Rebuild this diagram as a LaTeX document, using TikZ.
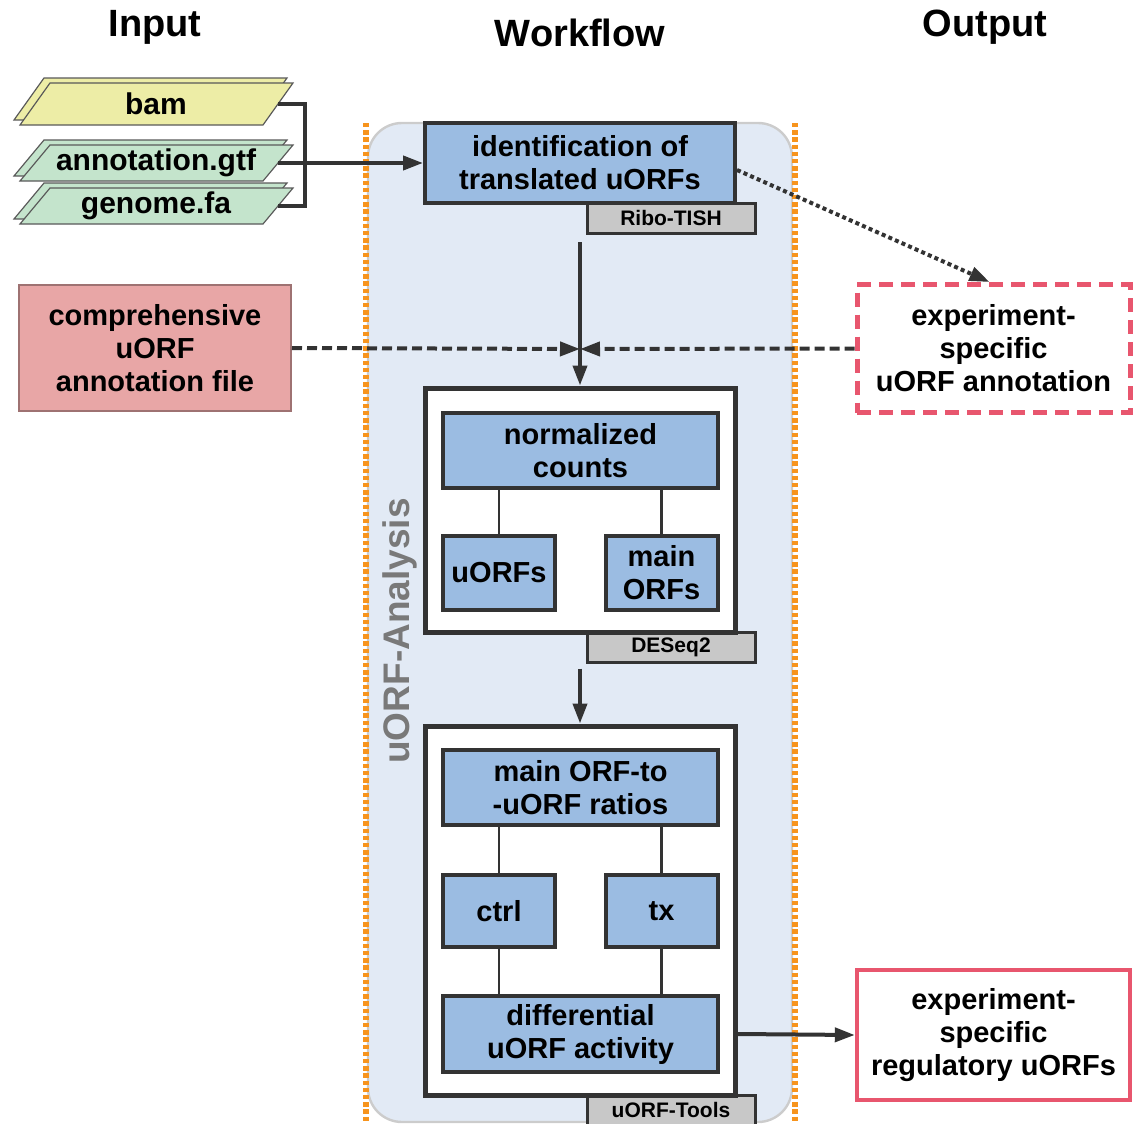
\documentclass[tikz,border=0pt]{standalone}
\usepackage{fontspec}
\setmainfont{Liberation Sans}
\usetikzlibrary{shapes.geometric,arrows.meta,positioning,calc}
\definecolor{darkline}{HTML}{333333}
\definecolor{stepblue}{HTML}{9BBCE2}
\definecolor{flowbg}{HTML}{E2EAF5}
\definecolor{toolgray}{HTML}{C8C8C8}
\definecolor{outred}{HTML}{E8566E}
\definecolor{compfill}{HTML}{E8A6A6}
\definecolor{compline}{HTML}{9E7272}
\definecolor{bamfill}{HTML}{EDEDA6}
\definecolor{seqfill}{HTML}{C4E4CC}
\definecolor{dotorange}{HTML}{F7941D}
\newcommand{\drawsheet}[3]{%
  \draw[sheet,fill=#1] (14,{#3-5}) -- (257,{#3-5}) -- (287,{#2-5}) -- (44,{#2-5}) -- cycle;
  \draw[sheet,fill=#1] (20,#3) -- (263,#3) -- (293,#2) -- (50,#2) -- cycle;}

\begin{document}
\begin{tikzpicture}[x=0.5pt,y=-0.5pt,>={Triangle[length=10pt,width=7pt]},
  every node/.style={font=\bfseries\fontsize{14.5}{16.5}\selectfont,align=center,inner sep=0pt},
  title/.style={font=\bfseries\fontsize{19}{22}\selectfont},
  sheet/.style={draw=gray!70!black,line width=0.6pt},
  filetext/.style={minimum width=122pt,font=\bfseries\fontsize{15}{17}\selectfont},
  stepbox/.style={draw=darkline,line width=2pt,fill=stepblue,minimum width=137.5pt,minimum height=37.5pt},
  smallbox/.style={stepbox,minimum width=56pt,minimum height=37pt},
  frame/.style={draw=darkline,line width=2.5pt,fill=white,minimum width=155pt},
  toolbox/.style={draw=darkline,line width=1.5pt,fill=toolgray,font=\bfseries\fontsize{10.5}{12}\selectfont,minimum width=84pt,minimum height=15pt},
  outbox/.style={draw=outred,line width=2.2pt,fill=white,minimum width=136.5pt,minimum height=64pt},
  wire/.style={draw=darkline,line width=2pt},
  link/.style={draw=darkline,line width=1.2pt},
  borderline/.style={dotorange,line width=3pt,dash pattern=on 2.2pt off 1.4pt}]
\useasboundingbox (0,0) rectangle (1137,1124);

\node[title] (intitle) at (155,27) {Input};
\node[title] (wftitle) at (580,33) {Workflow};
\node[title] (outtitle) at (985,27) {Output};

\fill[flowbg,draw=gray!40,line width=1.2pt,rounded corners=17pt] (368,123) rectangle (792,1122);
\draw[borderline] (366,123) -- (366,1124);
\draw[borderline] (795,123) -- (795,1124);
\node[rotate=90,text=gray!95!black,font=\bfseries\fontsize{18.5}{20}\selectfont] (analysis) at (400,631) {uORF-Analysis};

\drawsheet{bamfill}{83}{125}
\drawsheet{seqfill}{145}{181}
\drawsheet{seqfill}{188}{224}
\node[filetext] (bam) at (156,104) {bam};
\node[filetext] (annot) at (156,163) {annotation.gtf};
\node[filetext] (genome) at (156,206) {genome.fa};

\node[toolbox] (ribotish) at (671,218) {Ribo-TISH};
\node[stepbox,minimum width=155pt,minimum height=40pt] (ident) at (580,163) {identification of\\translated uORFs};

\node[toolbox] (deseq) at (671,647) {DESeq2};
\node[frame,minimum height=122pt] (deseqframe) at (580,510) {};
\node[stepbox] (norm) at (580.5,450.5) {normalized\\counts};
\node[smallbox] (uorfs) at (499,573) {uORFs};
\node[smallbox] (mainorfs) at (661.5,573) {main\\ORFs};

\node[toolbox] (uorftools) at (671,1110) {uORF-Tools};
\node[frame,minimum height=184.5pt] (toolsframe) at (580,910.5) {};
\node[stepbox] (ratios) at (580.5,787.5) {main ORF-to\\-uORF ratios};
\node[smallbox,minimum height=36pt] (ctrl) at (499,911) {ctrl};
\node[smallbox,minimum height=36pt] (tx) at (661.5,911) {tx};
\node[stepbox,minimum height=38pt] (diff) at (580.5,1034) {differential\\uORF activity};

\node[draw=compline,line width=1pt,fill=compfill,minimum width=136pt,minimum height=63pt] (comp) at (155,348) {comprehensive\\uORF\\annotation file};
\node[outbox,dash pattern=on 7pt off 4pt,line width=2.5pt] (expann) at (993.5,348.5) {experiment-\\specific\\uORF annotation};
\node[outbox,minimum height=65pt] (regul) at (993.5,1035) {experiment-\\specific\\regulatory uORFs};

\coordinate (meet) at (580,349);

\draw[wire] (bam.east) -| ($(genome.east)+(27,0)$) -- (genome.east);
\draw[wire,->] (annot.east) -- (annot.east -| ident.west);
\draw[wire,->] ($(ident.south)+(0,37)$) -- (deseqframe.north);
\draw[wire,->,dash pattern=on 5pt off 2.5pt] (comp.east) -- (meet);
\draw[wire,->,dash pattern=on 5pt off 2.5pt] (expann.west) -- (meet);
\draw[wire,->,dash pattern=on 2pt off 1.6pt] ($(ident.east)+(0,7)$) -- ($(expann.north)+(-4,0)$);
\draw[wire,->] ($(deseq.south -| deseqframe.south)+(0,5)$) -- (toolsframe.north);
\draw[wire,->] (diff.east -| toolsframe.east) -- (regul.west);

\draw[link] (norm.south -| uorfs.north) -- (uorfs.north);
\draw[link] (norm.south -| mainorfs.north) -- (mainorfs.north);
\draw[link] (ratios.south -| ctrl.north) -- (ctrl.north);
\draw[link] (ratios.south -| tx.north) -- (tx.north);
\draw[link] (ctrl.south) -- (diff.north -| ctrl.south);
\draw[link] (tx.south) -- (diff.north -| tx.south);
\end{tikzpicture}
\end{document}
